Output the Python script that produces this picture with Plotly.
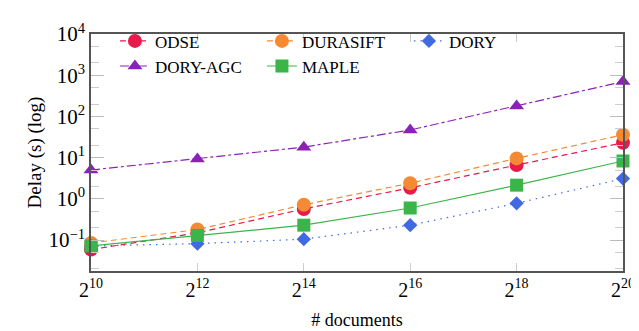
import plotly.graph_objects as go

x_exp = [10, 12, 14, 16, 18, 20]
x_labels = ["2<sup>10</sup>", "2<sup>12</sup>", "2<sup>14</sup>", "2<sup>16</sup>", "2<sup>18</sup>", "2<sup>20</sup>"]

odse = [0.059, 0.15, 0.57, 1.85, 6.6, 23]
durasift = [0.085, 0.18, 0.72, 2.4, 9.6, 36]
dory = [0.072, 0.082, 0.105, 0.23, 0.78, 3.1]
dory_agc = [5.0, 9.3, 18, 47, 180, 700]
maple = [0.072, 0.13, 0.23, 0.6, 2.15, 8.3]

y_tickvals = [0.1, 1, 10, 100, 1000, 10000]
y_ticktext = ["10<sup>\u22121</sup>", "10<sup>0</sup>", "10<sup>1</sup>", "10<sup>2</sup>", "10<sup>3</sup>", "10<sup>4</sup>"]

series = [
    ("ODSE", odse, "#E8194B", "6px,4px", "circle", 14),
    ("DURASIFT", durasift, "#F58A32", "6px,4px", "circle", 14),
    ("DORY", dory, "#4169E1", "1.5px,5px", "diamond", 11),
    ("DORY-AGC", dory_agc, "#8B22B8", "dashdot", "triangle-up", 13),
    ("MAPLE", maple, "#3BB54A", "solid", "square", 13),
]

fig = go.Figure()
for name, vals, color, dash, sym, size in series:
    fig.add_trace(go.Scatter(
        x=x_exp, y=vals, name=name, mode="lines+markers",
        line=dict(color=color, dash=dash, width=1.2),
        marker=dict(color=color, symbol=sym, size=size),
        cliponaxis=False,
    ))

font_family = "Liberation Serif, DejaVu Serif, serif"
fig.update_layout(
    width=639, height=331,
    margin=dict(l=83, r=13, t=13, b=65),
    paper_bgcolor="white", plot_bgcolor="white",
    font=dict(family=font_family, size=16, color="black"),
    showlegend=True,
    legend=dict(
        orientation="h", x=0.045, y=1.045, xanchor="left", yanchor="top",
        entrywidth=102, entrywidthmode="pixels",
        bgcolor="rgba(0,0,0,0)", font=dict(size=17, family=font_family, color="black"),
        tracegroupgap=0,
    ),
    xaxis=dict(
        range=[10, 20], tickvals=x_exp, ticktext=x_labels,
        showgrid=False, zeroline=False,
        showline=True, linecolor="#555", linewidth=1.5, mirror="allticks",
        ticks="inside", ticklen=8, tickcolor="#ccc", tickwidth=1,
        tickfont=dict(size=20),
        title=dict(text="# documents", font=dict(size=18), standoff=14),
    ),
    yaxis=dict(
        type="log", range=[-1.75, 4], tickvals=y_tickvals, ticktext=y_ticktext,
        showgrid=False, zeroline=False,
        showline=True, linecolor="#555", linewidth=1.5, mirror="allticks",
        ticks="inside", ticklen=13, tickcolor="#bbb", tickwidth=1,
        tickfont=dict(size=21),
        minor=dict(ticks="inside", ticklen=8, tickcolor="#ccc", tickwidth=1, showgrid=False),
        title=dict(text="Delay (s) (log)", font=dict(size=19), standoff=2),
    ),
)

fig.write_html("out.html")
